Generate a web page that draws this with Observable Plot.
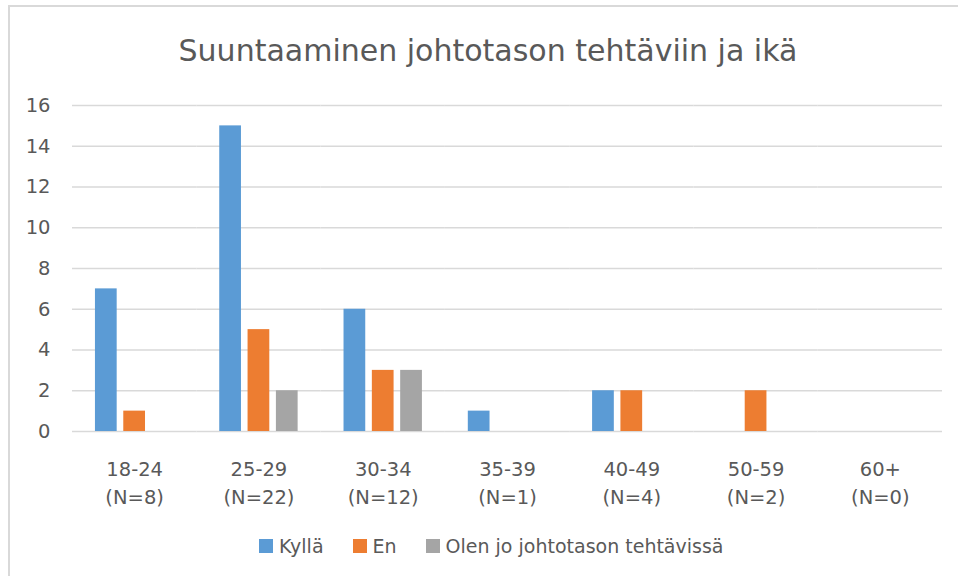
<!DOCTYPE html>
<html><head><meta charset="utf-8">
<script src="https://cdn.jsdelivr.net/npm/d3@7"></script>
<script src="https://cdn.jsdelivr.net/npm/@observablehq/plot@0.6"></script>
<style>
body{margin:0;background:#fff;}
#wrap{position:relative;width:958px;height:576px;overflow:hidden;font-family:"DejaVu Sans",sans-serif;color:#595959;background:#fff;}
#bt{position:absolute;left:8px;top:5px;width:950px;height:2px;background:#d9d9d9;}
#bl{position:absolute;left:8px;top:5px;width:2px;height:571px;background:#d9d9d9;}
#title{position:absolute;left:9px;width:958px;top:33px;text-align:center;font-size:30px;line-height:35px;white-space:nowrap;}
#chart{position:absolute;left:0;top:80px;}
#legend{position:absolute;left:259px;top:535px;display:flex;align-items:center;font-size:19px;white-space:nowrap;}
#legend .item{display:flex;align-items:center;margin-right:29px;}
#legend .sw{width:14px;height:14px;margin-right:6px;}
</style>
</head><body>
<div id="wrap">
<div id="bt"></div><div id="bl"></div>
<div id="title">Suuntaaminen johtotason tehtäviin ja ikä</div>
<div id="chart"></div>
<div id="legend"></div>
</div>
<script>
const ages = ["18-24","25-29","30-34","35-39","40-49","50-59","60+"];
const nLabels = ["(N=8)","(N=22)","(N=12)","(N=1)","(N=4)","(N=2)","(N=0)"];
const series = ["Kyllä","En","Olen jo johtotason tehtävissä"];
const kylla = [7,15,6,1,2,0,0];
const en = [1,5,3,0,2,2,0];
const olen = [0,2,3,0,0,0,0];
const yTicks = [0,2,4,6,8,10,12,14,16];
const colors = ["#5b9bd5","#ed7d31","#a5a5a5"];

const valuesBySeries = [kylla, en, olen];
const data = [];
ages.forEach((a, i) => {
  series.forEach((s, j) => {
    data.push({age: a, series: s, value: valuesBySeries[j][i]});
  });
});

const chart = Plot.plot({
  width: 958,
  height: 440,
  marginTop: 25,
  marginBottom: 89,
  marginLeft: 72,
  marginRight: 16,
  style: {fontFamily: "DejaVu Sans, sans-serif", fontSize: "19.5px", color: "#595959", background: "transparent"},
  fx: {domain: ages, padding: 0, round: false},
  x: {domain: series, paddingInner: 0.233, paddingOuter: 0.81, round: false, axis: null},
  y: {domain: [0, 16]},
  color: {domain: series, range: colors},
  marks: [
    Plot.gridY({ticks: yTicks, stroke: "#d9d9d9", strokeOpacity: 1, strokeWidth: 1.3}),
    Plot.axisY({ticks: yTicks, tickSize: 0, tickPadding: 22, label: null, fontSize: 19.5}),
    Plot.axisFx({anchor: "bottom", tickSize: 0, tickPadding: 24.5, label: null, fontSize: 19.5, lineHeight: 1.436,
      tickFormat: d => d + "\n" + nLabels[ages.indexOf(d)]}),
    Plot.barY(data, {fx: "age", x: "series", y: "value", fill: "series"})
  ]
});
document.getElementById("chart").appendChild(chart);

const legend = document.getElementById("legend");
series.forEach((s, j) => {
  const item = document.createElement("div");
  item.className = "item";
  const sw = document.createElement("div");
  sw.className = "sw";
  sw.style.background = colors[j];
  const t = document.createElement("span");
  t.textContent = s;
  item.appendChild(sw); item.appendChild(t);
  legend.appendChild(item);
});
</script>
</body></html>
